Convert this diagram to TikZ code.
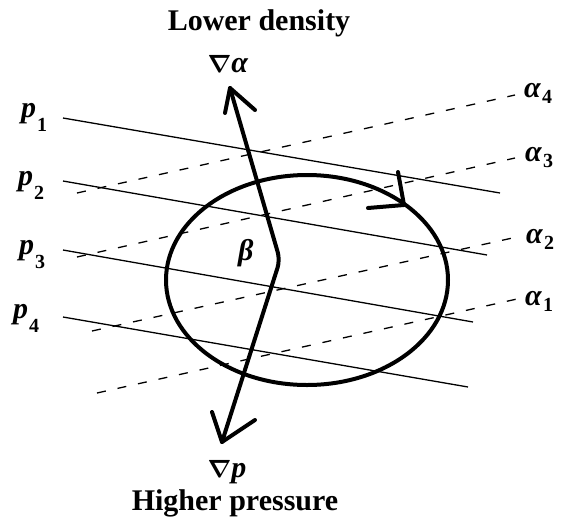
\documentclass[tikz,border=0pt]{standalone}
\usepackage{fontspec}
\setmainfont{Liberation Serif}
\newcommand\psub[1]{\textbf{\textit{p}}\kern1pt\raisebox{-14pt}{\fontsize{20}{20}\selectfont\bfseries #1}}
\newcommand\asub[1]{\textbf{\textit{α}}\kern1pt\raisebox{-6pt}{\fontsize{20}{20}\selectfont\bfseries #1}}
\begin{document}
\begin{tikzpicture}[x=1pt,y=-1pt,
  iso/.style={line width=1.3pt},
  isoa/.style={line width=1.3pt, dash pattern=on 9pt off 12pt},
  heavy/.style={line width=4pt, line join=round, line cap=round},
  lab/.style={inner sep=0pt, anchor=base west, font=\fontsize{30}{30}\selectfont},
  title/.style={inner sep=0pt, anchor=base, font=\fontsize{30}{30}\selectfont\bfseries}]
\useasboundingbox (0,0) rectangle (563,523);

% labels
\node[title] (LD) at (259,30) {Lower density};
\node[title] (HP) at (235,510) {Higher pressure};
\node[lab,anchor=base] (GA) at (228,72) {{\boldmath$\nabla$}\textbf{\textit{α}}};
\node[lab,anchor=base] (GP) at (227,477) {{\boldmath$\nabla$}\textbf{\textit{p}}};
\node[lab] (B) at (238,260) {\textbf{\textit{β}}};

\node[lab] (P1) at (21,117) {\psub{1}};
\node[lab] (P2) at (18,185) {\psub{2}};
\node[lab] (P3) at (19,254) {\psub{3}};
\node[lab] (P4) at (13,318) {\psub{4}};

\node[lab] (A4) at (524,97) {\asub{4}};
\node[lab] (A3) at (525,161) {\asub{3}};
\node[lab] (A2) at (526,243) {\asub{2}};
\node[lab] (A1) at (525,305) {\asub{1}};

% isobars
\coordinate (p1s) at (63,118); \coordinate (p1e) at (500,193);
\coordinate (p2s) at (63,181); \coordinate (p2e) at (487,255);
\coordinate (p3s) at (63,250); \coordinate (p3e) at (473,322);
\coordinate (p4s) at (63,317); \coordinate (p4e) at (468,387);
\draw[iso] (p1s) -- (p1e);
\draw[iso] (p2s) -- (p2e);
\draw[iso] (p3s) -- (p3e);
\draw[iso] (p4s) -- (p4e);

% isosteres
\coordinate (a4s) at (77,193); \coordinate (a4e) at (515,95);
\coordinate (a3s) at (77,257); \coordinate (a3e) at (515,158);
\coordinate (a2s) at (92,331); \coordinate (a2e) at (517,237);
\coordinate (a1s) at (97,393); \coordinate (a1e) at (517,299);
\draw[isoa] (a4s) -- (a4e);
\draw[isoa] (a3s) -- (a3e);
\draw[isoa] (a2s) -- (a2e);
\draw[isoa] (a1s) -- (a1e);

% circuit
\coordinate (C) at (307,280);
\draw[heavy] (C) ellipse [x radius=141pt, y radius=105pt];
\coordinate (ct) at (404,205);
\draw[heavy] (398,172) -- (ct) -- (368,208);

% gradients
\coordinate (ta) at (230,88);
\coordinate (bend) at (280,260);
\coordinate (tb) at (222,442);
\draw[heavy, rounded corners=8pt] (ta) -- (bend) -- (tb);
\draw[heavy] (225,113) -- (ta) -- (255,110);
\draw[heavy] (212,412) -- (tb) -- (255,420);
\end{tikzpicture}
\end{document}
